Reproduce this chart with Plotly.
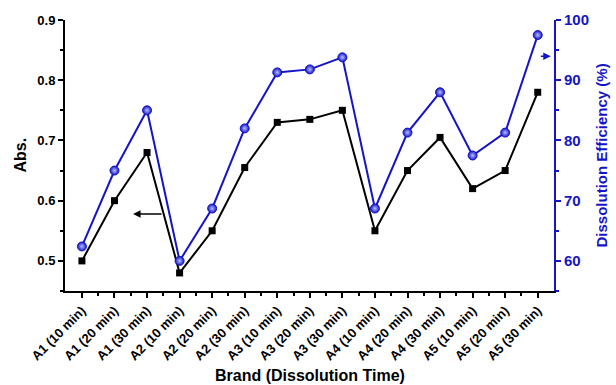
import plotly.graph_objects as go

categories = ["A1 (10 min)", "A1 (20 min)", "A1 (30 min)",
              "A2 (10 min)", "A2 (20 min)", "A2 (30 min)",
              "A3 (10 min)", "A3 (20 min)", "A3 (30 min)",
              "A4 (10 min)", "A4 (20 min)", "A4 (30 min)",
              "A5 (10 min)", "A5 (20 min)", "A5 (30 min)"]
abs_values = [0.50, 0.60, 0.68, 0.48, 0.55, 0.655, 0.73, 0.735, 0.75,
              0.55, 0.65, 0.705, 0.62, 0.65, 0.78]
de_values = [62.4, 75.0, 85.0, 60.0, 68.7, 82.0, 91.3, 91.8, 93.8,
             68.7, 81.3, 88.0, 77.5, 81.3, 97.5]
left_ticks = [0.5, 0.6, 0.7, 0.8, 0.9]
right_ticks = [60, 70, 80, 90, 100]

idx = list(range(len(categories)))
BLUE = "#1414c8"
FONT = "Liberation Sans, Arial, sans-serif"

W, H = 616, 385
ML, MR, MT, MB = 65, 62, 20, 94
PW, PH = W - ML - MR, H - MT - MB

fig = go.Figure()
fig.add_trace(go.Scatter(
    x=idx, y=abs_values, mode="lines+markers",
    line=dict(color="black", width=2),
    marker=dict(symbol="square", size=7, color="black"),
    xaxis="x", yaxis="y", showlegend=False))
fig.add_trace(go.Scatter(
    x=idx, y=de_values, mode="lines+markers",
    line=dict(color=BLUE, width=2),
    marker=dict(symbol="circle", size=9, color=BLUE,
                gradient=dict(type="radial", color="#b8c0ff"),
                line=dict(color=BLUE, width=1)),
    xaxis="x", yaxis="y2", showlegend=False))

xr = [-0.52, len(categories) - 0.5]
fig.update_layout(
    width=W, height=H,
    margin=dict(l=ML, r=MR, t=MT, b=MB, autoexpand=False),
    paper_bgcolor="white", plot_bgcolor="white",
    font=dict(family=FONT, size=12, color="black", weight="bold"),
    xaxis=dict(
        range=xr, tickvals=idx, ticktext=categories, tickangle=-45,
        automargin=False,
        showline=True, linecolor="black", linewidth=2,
        ticks="outside", ticklen=5, tickwidth=2, tickcolor="black",
        minor=dict(tickvals=[i + 0.5 for i in idx[:-1]], ticks="outside",
                   ticklen=3, tickwidth=1.5, tickcolor="black"),
        showgrid=False, zeroline=False,
        tickfont=dict(size=13, family=FONT, weight="bold"),
    ),
    xaxis2=dict(
        range=xr, overlaying="x", side="top", tickvals=idx,
        showticklabels=False, showline=True, linecolor="black", linewidth=2,
        ticks="inside", ticklen=5, tickwidth=2, tickcolor="black",
        minor=dict(tickvals=[i + 0.5 for i in idx[:-1]], ticks="inside",
                   ticklen=3, tickwidth=1.5, tickcolor="black"),
        showgrid=False, zeroline=False, automargin=False,
    ),
    yaxis=dict(
        range=[0.45, 0.9], tickvals=left_ticks, ticktext=[f"{v:.1f}" for v in left_ticks],
        automargin=False,
        showline=True, linecolor="black", linewidth=2,
        ticks="outside", ticklen=5, tickwidth=2, tickcolor="black",
        minor=dict(dtick=0.05, tick0=0.45, ticks="outside", ticklen=3,
                   tickwidth=1.5, tickcolor="black"),
        showgrid=False, zeroline=False,
        tickfont=dict(size=13, family=FONT, weight="bold"),
    ),
    yaxis2=dict(
        range=[55, 100], overlaying="y", side="right", anchor="x",
        tickvals=right_ticks, automargin=False,
        showline=True, linecolor=BLUE, linewidth=2,
        ticks="outside", ticklen=5, tickwidth=2, tickcolor=BLUE,
        minor=dict(dtick=5, tick0=55, ticks="outside", ticklen=3,
                   tickwidth=1.5, tickcolor=BLUE),
        showgrid=False, zeroline=False,
        tickfont=dict(size=15, family=FONT, weight="bold", color=BLUE),
    ),
)

# axis titles as annotations for precise placement
fig.add_annotation(text="Brand (Dissolution Time)", xref="paper", yref="paper",
                   x=(310 - ML) / PW, y=-(375 - (MT + PH)) / PH,
                   xanchor="center", yanchor="middle", showarrow=False,
                   font=dict(size=16, family=FONT, weight="bold", color="black"))
fig.add_annotation(text="Abs.", xref="paper", yref="paper",
                   x=(20 - ML) / PW, y=0.5, textangle=-90,
                   xanchor="center", yanchor="middle", showarrow=False,
                   font=dict(size=16, family=FONT, weight="bold", color="black"))
fig.add_annotation(text="Dissolution Efficiency (%)", xref="paper", yref="paper",
                   x=(601 - ML) / PW, y=0.5, textangle=-90,
                   xanchor="center", yanchor="middle", showarrow=False,
                   font=dict(size=15, family=FONT, weight="bold", color=BLUE))

fig.add_annotation(x=1.57, y=0.578, ax=2.49, ay=0.578, xref="x", yref="y",
                   axref="x", ayref="y", text="", showarrow=True,
                   arrowhead=2, arrowsize=1, arrowwidth=1.5, arrowcolor="black")
fig.add_annotation(x=14.4, y=94, ax=14.05, ay=94, xref="x", yref="y2",
                   axref="x", ayref="y2", text="", showarrow=True,
                   arrowhead=2, arrowsize=1, arrowwidth=1.5, arrowcolor=BLUE)

fig.write_html("out.html", config={"displayModeBar": False},
               post_script="document.body.style.margin='0';document.body.style.overflow='hidden';")
